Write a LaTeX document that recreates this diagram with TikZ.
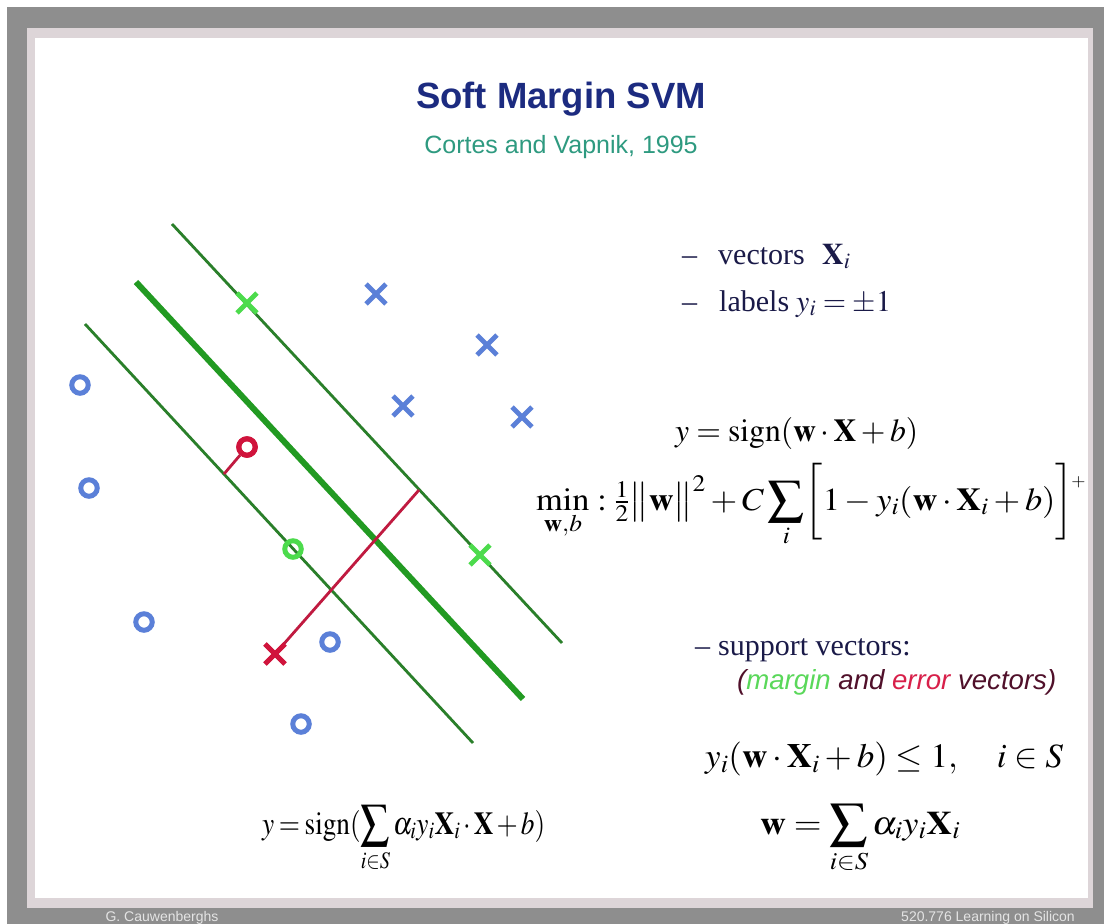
\documentclass[tikz,border=0pt]{standalone}
\usepackage{amsmath}
\usepackage{graphicx}
\usepackage{mathptmx}
\usepackage[no-math]{fontspec}
\setmainfont{Liberation Serif}
\setsansfont{Liberation Sans}
\usetikzlibrary{shapes.misc}
\definecolor{outergray}{HTML}{8E8E8E}
\definecolor{framepink}{HTML}{DDD5D8}
\definecolor{titleblue}{HTML}{1C2B80}
\definecolor{subteal}{HTML}{2E9A80}
\definecolor{ptblue}{HTML}{5B80D8}
\definecolor{ptgreen}{HTML}{4CDB4C}
\definecolor{ptred}{HTML}{D0143C}
\definecolor{linegreen}{HTML}{2A7F2A}
\definecolor{thickgreen}{HTML}{229A22}
\definecolor{errred}{HTML}{C01A40}
\definecolor{bullettext}{HTML}{1A1A48}
\definecolor{darkmaroon}{HTML}{50102A}
\definecolor{margintext}{HTML}{5AD85A}
\definecolor{errortext}{HTML}{D8204A}
\definecolor{foottext}{HTML}{E4E4E4}
\makeatletter
\newcommand{\brOpen}{\mathopen{\bBigg@{1.8}[}}
\newcommand{\brClose}{\mathclose{\bBigg@{1.8}]}}
\makeatother
\newcommand{\Sm}{\mathop{\vcenter{\hbox{\scalebox{1.05}{$\displaystyle\sum$}}}}\limits}
\newcommand{\eqfit}[3]{\resizebox{#1pt}{\height}{\fontsize{#2}{38}\selectfont$\displaystyle #3$}}
\newcommand{\eqtight}[3]{\resizebox{#1pt}{\height}{\fontsize{#2}{38}\selectfont\thickmuskip=3mu\medmuskip=2mu\thinmuskip=2mu$\displaystyle #3$}}
\begin{document}
\begin{tikzpicture}[x=1pt,y=-1pt,
  ring/.style={circle, draw=#1, line width=5pt, minimum size=16.5pt, inner sep=0pt},
  xmark/.style={cross out, draw=#1, line width=4.8pt, minimum size=15pt, inner sep=0pt},
  margline/.style={draw=linegreen, line width=2.8pt},
  sepline/.style={draw=thickgreen, line width=6pt},
  errline/.style={draw=errred, line width=2.8pt},
  bul/.style={anchor=base west, inner sep=0pt, text=bullettext, font=\fontsize{30}{36}\selectfont},
  eq/.style={anchor=base west, inner sep=0pt},
  foot/.style={anchor=base, inner sep=0pt, text=foottext, font=\sffamily\fontsize{14}{16}\selectfont}
]
\useasboundingbox (0,0) rectangle (1104,924);
\fill[white] (0,0) rectangle (1104,924);
\fill[outergray] (7,7) rectangle (1104,924);
\fill[framepink] (27,28) rectangle (1093,908);
\fill[white] (35,38) rectangle (1088,898);

% title
\node[anchor=base, inner sep=0pt, text=titleblue, font=\sffamily\bfseries\fontsize{36.5}{43}\selectfont] (title) at (561,108) {Soft Margin SVM};
\node[anchor=base, inner sep=0pt, text=subteal, font=\sffamily\fontsize{25}{29}\selectfont] (subtitle) at (561,153) {Cortes and Vapnik, 1995};

% lines
\coordinate (upA) at (172,224); \coordinate (upB) at (562,643);
\coordinate (midA) at (136,282); \coordinate (midB) at (523,699);
\coordinate (loA) at (85,324); \coordinate (loB) at (473,743);
\draw[margline] (upA) -- (upB);
\draw[sepline] (midA) -- (midB);
\draw[margline] (loA) -- (loB);

% error connectors
\coordinate (errUp) at (419,490);
\coordinate (errLo) at (224,474);
\node[ring=ptred] (redo) at (247,447) {};
\node[xmark=ptred] (redx) at (275,654) {};
\draw[errline] (redx.center) -- (errUp);
\draw[errline] (redo) -- (errLo);
\node[ring=ptred] at (redo) {};
\node[xmark=ptred] at (redx) {};

% blue crosses
\node[xmark=ptblue] (bx1) at (376,294) {};
\node[xmark=ptblue] (bx2) at (487,345) {};
\node[xmark=ptblue] (bx3) at (403,406) {};
\node[xmark=ptblue] (bx4) at (522,417) {};
% blue circles
\node[ring=ptblue] (bo1) at (80,385) {};
\node[ring=ptblue] (bo2) at (89,488) {};
\node[ring=ptblue] (bo3) at (144,622) {};
\node[ring=ptblue] (bo4) at (330,642) {};
\node[ring=ptblue] (bo5) at (301,724) {};
% margin support vectors
\node[xmark=ptgreen] (gx1) at (247,303) {};
\node[xmark=ptgreen] (gx2) at (480,555) {};
\node[ring=ptgreen] (go1) at (293,549) {};

% bullets
\node[bul] (d1) at (682,264) {--};
\node[bul] (t1) at (718,264) {vectors};
\node[bul] (t1m) at (822,264) {$\mathbf{X}_i$};
\node[bul] (d2) at (682,311) {--};
\node[bul] (t2) at (719,311) {labels};
\node[bul] (t2m) at (796,311) {$y_i=\pm1$};

% equations
\node[eq] (e1) at (675,441) {\eqfit{243}{32}{y=\mathrm{sign}(\mathbf{w}\cdot\mathbf{X}+b)}};
\node[eq] (e2) at (536,510) {\eqfit{547}{32}{\min\limits_{\mathbf{w},b}:{\textstyle\frac{1}{2}}\bigl\|\mathbf{w}\bigr\|^2+C\Sm_i\brOpen 1-y_i(\mathbf{w}\cdot\mathbf{X}_i+b)\brClose\rlap{\hspace{-2pt}\raisebox{24pt}{\fontsize{17}{19}\selectfont$+$}}\hspace{9pt}}};

\node[bul] (d3) at (695,655) {--};
\node[bul] (t3) at (718,655) {support vectors:};
\node[anchor=base west, inner sep=0pt, font=\sffamily\itshape\fontsize{27.6}{34}\selectfont, text=darkmaroon] (t3b) at (737,689)
  {(\textcolor{margintext}{margin} and \textcolor{errortext}{error} vectors)};

\node[eq] (e3) at (705,767) {\eqfit{358}{34}{y_i(\mathbf{w}\cdot\mathbf{X}_i+b)\le1,\quad i\in S}};
\node[eq] (e4) at (760,834) {\eqfit{200}{33}{\mathbf{w}=\Sm_{i\in S}\alpha_i y_i\mathbf{X}_i}};
\node[eq] (e5) at (262,834) {\eqtight{283}{32}{y=\mathrm{sign}(\Sm_{i\in S}\alpha_i y_i\mathbf{X}_i\cdot\mathbf{X}+b)}};

% footer
\node[foot] (f1) at (162,921) {G. Cauwenberghs};
\node[foot] (f2) at (988,921) {520.776 Learning on Silicon};
\end{tikzpicture}
\end{document}
